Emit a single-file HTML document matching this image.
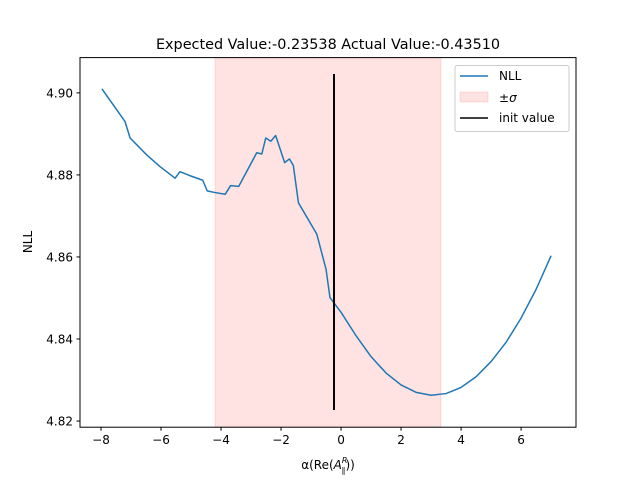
<!DOCTYPE html>
<html><head><meta charset="utf-8"><style>
body{margin:0;background:#fff}
svg text{font-family:"DejaVu Sans","Liberation Sans",sans-serif;fill:#000}
</style></head><body>
<svg id="chart" width="640" height="480" xmlns="http://www.w3.org/2000/svg">
<text x="328" y="49" font-size="14.4" text-anchor="middle">Expected Value:-0.23538 Actual Value:-0.43510</text>
<g id="plot"></g>
<text transform="translate(32,242) rotate(-90)" font-size="12" text-anchor="middle">NLL</text>
<text x="328" y="469" font-size="12" text-anchor="middle">α(Re(<tspan font-style="italic">A</tspan><tspan font-size="8" font-style="italic" dy="-6">R</tspan><tspan font-size="8" dx="-6" dy="10">∥</tspan><tspan dy="-4">))</tspan></text>
<g>
<rect x="455" y="65.5" width="114" height="66" fill="#fff" stroke="#ccc" rx="2"/>
<line x1="460" y1="76" x2="488" y2="76" stroke="#1f77b4" stroke-width="1.5"/>
<text x="499" y="80" font-size="12">NLL</text>
<rect x="460" y="92" width="28" height="10" fill="#ff0000" fill-opacity="0.11" stroke="#ff0000" stroke-opacity="0.11"/>
<text x="499" y="102" font-size="12">±<tspan font-style="italic">σ</tspan></text>
<line x1="460" y1="118" x2="488" y2="118" stroke="#000" stroke-width="1.5"/>
<text x="499" y="122" font-size="12">init value</text>
</g>
</svg>
<script>
const xs=[-7.97,-7.2,-7.03,-6.48,-6.03,-5.53,-5.37,-5.03,-4.61,-4.46,-4.2,-3.86,-3.68,-3.41,-2.81,-2.64,-2.51,-2.34,-2.18,-1.88,-1.72,-1.59,-1.42,-0.81,-0.5,-0.37,0,0.5,1.0,1.5,2.0,2.5,3.0,3.5,4.0,4.5,5.0,5.5,6.0,6.5,7.0];
const ys=[4.9010,4.8930,4.8890,4.8849,4.8820,4.8792,4.8808,4.8798,4.8787,4.8761,4.8757,4.8753,4.8774,4.8772,4.8854,4.8851,4.8890,4.8882,4.8896,4.8830,4.8839,4.8823,4.8732,4.8656,4.8570,4.8501,4.8465,4.8408,4.8357,4.8317,4.8288,4.8270,4.8263,4.8267,4.8282,4.8308,4.8345,4.8392,4.8451,4.8521,4.8603];
const sigmaBand=[-4.2,3.33];
const initValue=-0.235, initRange=[4.8227,4.9046];
const xTicks=[-8,-6,-4,-2,0,2,4,6];
const yTicks=[4.82,4.84,4.86,4.88,4.90];
const L=80,R=576,T=57.6,B=427.2;
const xmin=-8.7,xmax=7.83,ymin=4.8185,ymax=4.9086;
const X=v=>L+(v-xmin)/(xmax-xmin)*(R-L);
const Y=v=>B-(v-ymin)/(ymax-ymin)*(B-T);
const g=document.getElementById('plot');
const NS='http://www.w3.org/2000/svg';
function mk(t,a){const e=document.createElementNS(NS,t);for(const k in a)e.setAttribute(k,a[k]);g.appendChild(e);return e;}
let e=mk('rect',{x:X(sigmaBand[0]),y:T,width:X(sigmaBand[1])-X(sigmaBand[0]),height:B-T,fill:'#ff0000','fill-opacity':0.11,stroke:'#ff0000','stroke-opacity':0.11});


e=mk('polyline',{points:xs.map((x,i)=>X(x)+','+Y(ys[i])).join(' '),fill:'none',stroke:'#1f77b4','stroke-width':1.5,'stroke-linejoin':'round'});


e=mk('line',{x1:X(initValue),x2:X(initValue),y1:Y(initRange[0]),y2:Y(initRange[1]),stroke:'#000','stroke-width':2});


e=mk('rect',{x:L,y:T,width:R-L,height:B-T,fill:'none',stroke:'#000','stroke-width':1});


xTicks.forEach(v=>{
 mk('line',{x1:X(v),x2:X(v),y1:B,y2:B+3.5,stroke:'#000'});
 const t=mk('text',{x:X(v),y:B+17,'font-size':12,'text-anchor':'middle'});
 t.textContent=v<0?'−'+(-v):String(v);
 
 
});
yTicks.forEach(v=>{
 mk('line',{x1:L-3.5,x2:L,y1:Y(v),y2:Y(v),stroke:'#000'});
 const t=mk('text',{x:L-7,y:Y(v)+4.5,'font-size':12,'text-anchor':'end'});
 t.textContent=v.toFixed(2);
 
 
});
</script>
</body></html>
